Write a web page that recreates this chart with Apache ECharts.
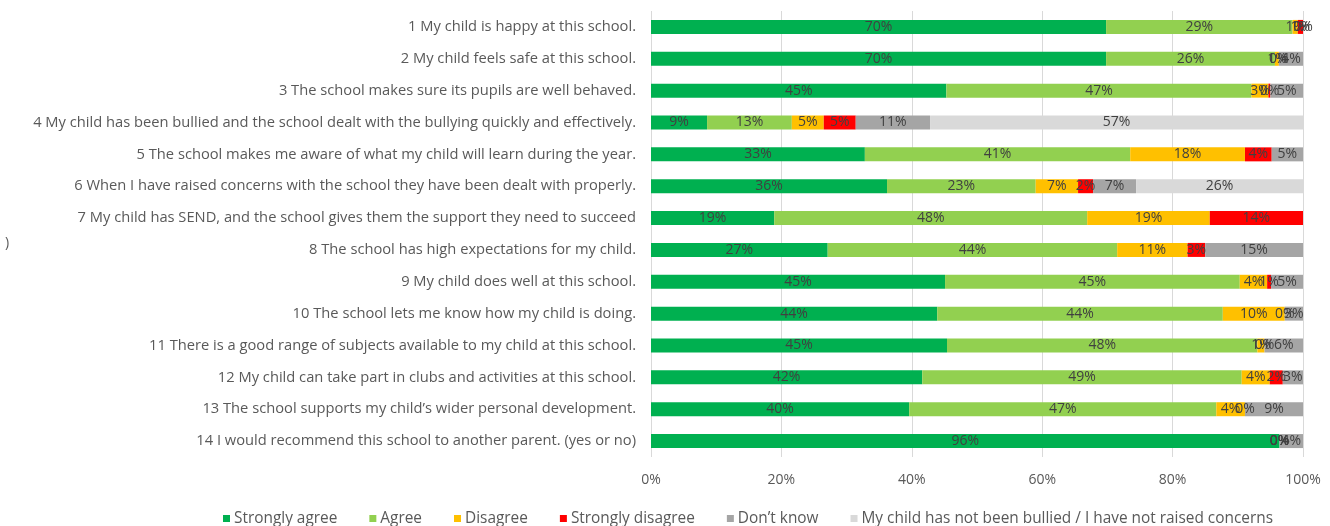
<!DOCTYPE html>
<html><head><meta charset="utf-8">
<script src="https://cdn.jsdelivr.net/npm/echarts@6/dist/echarts.min.js"></script>
<style>html,body{margin:0;padding:0;background:#fff}#c{width:1330px;height:526px}</style>
</head><body><div id="c"></div>
<script>
const categories = [
  "1 My child is happy at this school.",
  "2 My child feels safe at this school.",
  "3 The school makes sure its pupils are well behaved.",
  "4 My child has been bullied and the school dealt with the bullying quickly and effectively.",
  "5 The school makes me aware of what my child will learn during the year.",
  "6 When I have raised concerns with the school they have been dealt with properly.",
  "7 My child has SEND, and the school gives them the support they need to succeed",
  "8 The school has high expectations for my child.",
  "9 My child does well at this school.",
  "10 The school lets me know how my child is doing.",
  "11 There is a good range of subjects available to my child at this school.",
  "12 My child can take part in clubs and activities at this school.",
  "13 The school supports my child\u2019s wider personal development.",
  "14 I would recommend this school to another parent. (yes or no)"
];
const seriesNames = ["Strongly agree","Agree","Disagree","Strongly disagree","Don\u2019t know","My child has not been bullied / I have not raised concerns"];
const stronglyAgree    = [69.8, 69.8, 45.3, 8.6, 32.8, 36.2, 18.9, 27.1, 45.1, 43.9, 45.4, 41.6, 39.6, 96.4];
const agree            = [28.6, 25.9, 46.8, 13.0, 40.7, 22.8, 48.0, 44.4, 45.2, 43.8, 47.6, 49.0, 47.1, 0];
const disagree         = [0.8, 0.6, 2.6, 4.9, 17.6, 6.5, 18.8, 10.8, 4.2, 9.5, 1.1, 4.3, 4.4, 0];
const stronglyDisagree = [0.8, 0, 0.3, 4.9, 4.1, 2.3, 14.3, 2.7, 0.6, 0, 0, 2.0, 0, 0];
const dontKnow         = [0, 3.7, 5.0, 11.4, 4.8, 6.6, null, 15.0, 4.9, 2.8, 5.9, 3.1, 8.9, 3.6];
const notApplicable    = [null, null, null, 57.2, null, 25.6, null, null, null, null, null, null, null, null];
const xTicks = [0, 20, 40, 60, 80, 100];
const colors = ["#00B050","#92D050","#FFC000","#FF0000","#A5A5A5","#D9D9D9"];

const FONT = "'Open Sans', sans-serif";
const data = [stronglyAgree, agree, disagree, stronglyDisagree, dontKnow, notApplicable];
const chart = echarts.init(document.getElementById('c'));
chart.setOption({
  animation: false,
  color: colors,
  textStyle: { fontFamily: FONT },
  grid: { left: 651, right: 27, top: 11, bottom: 69, containLabel: false },
  xAxis: {
    type: 'value', min: xTicks[0], max: xTicks[xTicks.length-1], interval: 20,
    axisLine: { show: false }, axisTick: { show: false },
    splitLine: { lineStyle: { color: '#D9D9D9', width: 1 } },
    axisLabel: { formatter: v => v + '%', color: '#595959', fontSize: 14, margin: 16, fontFamily: FONT }
  },
  yAxis: {
    type: 'category', data: categories, inverse: true,
    axisLine: { show: false }, axisTick: { show: false },
    axisLabel: { color: '#595959', fontSize: 14.7, margin: 15, fontFamily: FONT }
  },
  legend: {
    left: 218, top: 506, icon: 'rect', itemWidth: 7, itemHeight: 7, itemGap: 32,
    textStyle: { color: '#595959', fontSize: 15.4, fontFamily: FONT, padding: [0,0,0,-1] },
    data: seriesNames
  },
  graphic: [{ type: 'text', left: 5, top: 236, style: { text: ')', fill: '#595959', font: '14px ' + FONT } }],
  series: seriesNames.map((n, i) => ({
    name: n, type: 'bar', stack: 'all', barWidth: 14,
    data: data[i],
    itemStyle: { color: colors[i] },
    label: { show: true, position: 'inside', color: '#404040', fontSize: 14, fontFamily: FONT,
      formatter: p => (p.value === null || p.value === undefined) ? '' : Math.round(p.value) + '%' }
  }))
});
</script></body></html>
